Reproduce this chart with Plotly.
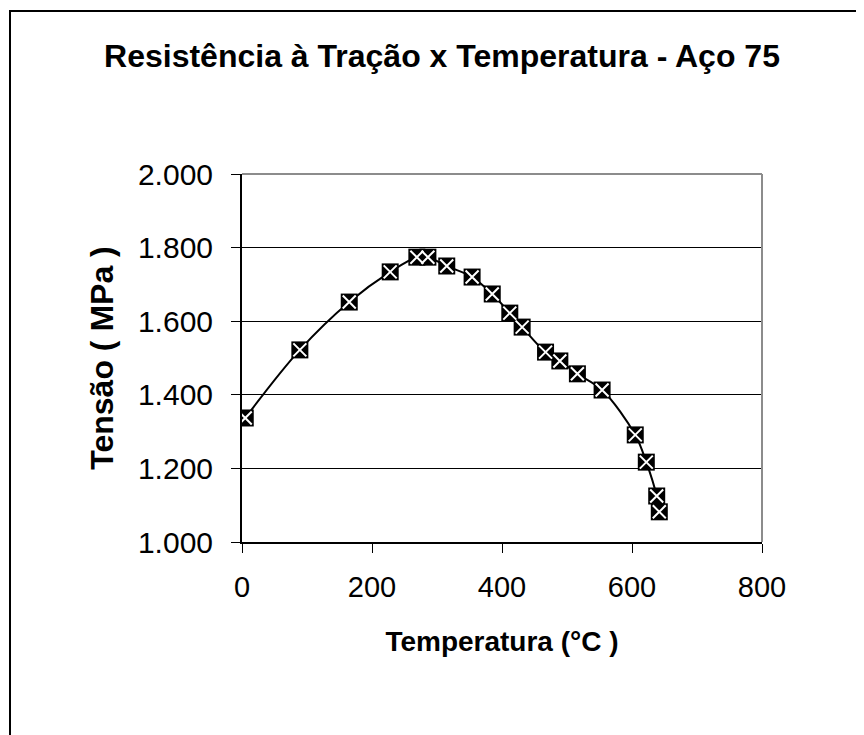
import plotly.graph_objects as go

# Temperatura (°C) x Tensão (MPa)
temperatura = [5, 89, 165, 228, 269, 286, 315, 354, 385, 412, 431,
               467, 489, 516, 554, 605, 622, 638, 642]
tensao = [1337, 1522, 1652, 1734, 1774, 1774, 1750, 1720, 1674, 1622, 1584,
          1516, 1492, 1457, 1413, 1291, 1217, 1125, 1082]

x_ticks = [0, 200, 400, 600, 800]
y_ticks = [1000, 1200, 1400, 1600, 1800, 2000]

FONT = "Liberation Sans, Arial, sans-serif"
OFF = 8  # margem padrão do <body> na página gerada

fig = go.Figure()

# curva suavizada com marcadores quadrados pretos
fig.add_trace(go.Scatter(
    x=temperatura,
    y=tensao,
    mode='lines+markers',
    line=dict(color='black', width=2, shape='spline', smoothing=1),
    marker=dict(symbol='square', size=17, color='black', line=dict(width=0)),
    showlegend=False,
    hoverinfo='skip'
))

# "x" branco dentro de cada marcador
fig.add_trace(go.Scatter(
    x=temperatura,
    y=tensao,
    mode='markers',
    marker=dict(symbol='x-thin-open', size=13, color='white',
                line=dict(color='white', width=2)),
    showlegend=False,
    hovertemplate='%{x} °C<br>%{y:,d} MPa<extra></extra>'
))

fig.update_layout(
    width=864,
    height=735,
    paper_bgcolor='white',
    plot_bgcolor='white',
    separators=',.',
    font=dict(family=FONT, size=28, color='black'),
    margin=dict(l=242 - OFF, r=102 + OFF, t=174 - OFF, b=193 + OFF),
    title=dict(
        text='<b>Resistência à Tração x Temperatura - Aço 75</b>',
        font=dict(family=FONT, size=32, color='black'),
        x=(442 - OFF) / 864, xanchor='center', xref='container',
        y=1 - (56 - OFF) / 735, yanchor='middle', yref='container'
    ),
    xaxis=dict(
        range=[0, 800],
        tickvals=x_ticks,
        ticks='outside', ticklen=9, tickwidth=1, tickcolor='black',
        ticklabelstandoff=9,
        tickfont=dict(size=29),
        showgrid=False, zeroline=False,
        showline=True, linecolor='black', linewidth=2,
        title=dict(text='<b>Temperatura (°C )</b>', standoff=30,
                   font=dict(family=FONT, size=28))
    ),
    yaxis=dict(
        range=[1000, 2000],
        tickvals=y_ticks,
        tickformat=',d',
        ticks='outside', ticklen=9, tickwidth=1, tickcolor='black',
        ticklabelstandoff=12,
        tickfont=dict(size=30),
        showgrid=True, gridcolor='black', gridwidth=1,
        zeroline=False,
        showline=True, linecolor='black', linewidth=2,
        title=dict(text='<b>Tensão ( MPa )</b>', standoff=15,
                   font=dict(family=FONT, size=32))
    ),
    shapes=[
        # bordas superior e direita da área de plotagem (cinza)
        dict(type='line', xref='paper', yref='paper', x0=0, x1=1, y0=1, y1=1,
             line=dict(color='#8c8c8c', width=2), layer='above'),
        dict(type='line', xref='paper', yref='paper', x0=1, x1=1, y0=0, y1=1,
             line=dict(color='#8c8c8c', width=2), layer='above'),
        # borda externa do gráfico
        dict(type='rect', xref='paper', yref='paper',
             x0=(10 - 242) / 520, x1=(880 - 242) / 520,
             y0=(542 - 760) / 368, y1=(542 - 11) / 368,
             line=dict(color='black', width=2), layer='below')
    ]
)

fig.write_html("out.html")
